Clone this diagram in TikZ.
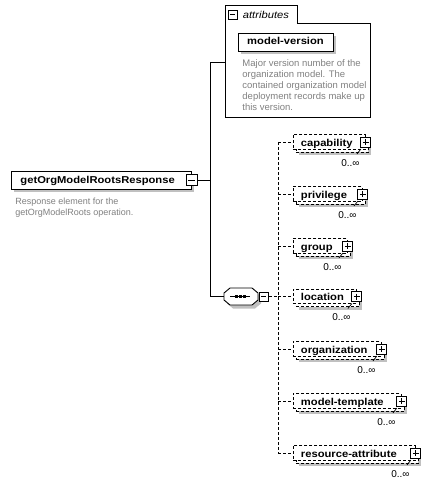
\documentclass[tikz,border=0pt]{standalone}
\usepackage{fontspec}
\setmainfont{Liberation Sans}
\newfontfamily\elemfamily[FakeStretch=1.12]{Liberation Sans}
\usetikzlibrary{positioning, calc, shadows}
\definecolor{shadowcolor}{RGB}{192,192,192}
\definecolor{desccolor}{RGB}{128,128,128}
\newcommand{\seqoutline}{(-11,-8.5) -- (11,-8.5) -- (17,-3.5) -- (17,3.5) -- (11,8.5) -- (-11,8.5) -- (-17,3.5) -- (-17,-3.5) -- cycle}

\begin{document}
\begin{tikzpicture}[x=1pt, y=-1pt, line width=0.9pt,
    elemfont/.style={font=\elemfamily\fontsize{10}{12}\selectfont\bfseries},
    desc/.style={font=\fontsize{9}{11}\selectfont, text=desccolor, align=left, inner sep=1pt},
    mult/.style={font=\fontsize{10}{12}\selectfont, inner sep=0.5pt},
    btn/.style={draw, fill=white, minimum size=10pt, inner sep=0pt, solid},
    minusbtn/.style={btn, path picture={
        \draw ([xshift=2pt]path picture bounding box.west) -- ([xshift=-2pt]path picture bounding box.east);}},
    plusbtn/.style={btn, path picture={
        \draw ([xshift=2pt]path picture bounding box.west) -- ([xshift=-2pt]path picture bounding box.east);
        \draw ([yshift=-2pt]path picture bounding box.north) -- ([yshift=2pt]path picture bounding box.south);}},
    rootbox/.style={draw, fill=white, elemfont, minimum height=18pt, text height=9.5pt, text depth=2.5pt,
        inner xsep=9pt, inner ysep=0pt, align=left,
        general shadow={fill=shadowcolor, shadow xshift=3pt, shadow yshift=-3pt}},
    attrelem/.style={draw, fill=white, elemfont, minimum width=95pt, minimum height=18pt,
        text height=8.5pt, text depth=2.5pt, inner sep=0pt,
        general shadow={fill=shadowcolor, shadow xshift=3pt, shadow yshift=-3pt}},
    childbox/.style={draw, dash pattern=on 3pt off 2pt, fill=white, elemfont, minimum height=14.5pt,
        text height=11pt, text depth=2.5pt, inner xsep=8pt, inner ysep=0pt, align=left, anchor=west,
        general shadow={fill=shadowcolor, shadow xshift=6pt, shadow yshift=-6pt},
        general shadow={fill=white, draw, dash pattern=on 3pt off 2pt, shadow xshift=3pt, shadow yshift=-3pt}},
    seqbox/.style={minimum width=34pt, minimum height=17pt, inner sep=0pt,
        path picture={
          \draw ([xshift=6pt]path picture bounding box.west) -- ([xshift=-8pt]path picture bounding box.east);
          \foreach \dx in {-5,-1,3}
            \fill ([xshift=\dx pt]path picture bounding box.center) +(-1.5,-1.3) rectangle +(1.5,1.3);}},
    conn/.style={dash pattern=on 3pt off 2pt},
    tick/.style={line width=0.7pt}]
    \useasboundingbox (0,0) rectangle (433,489);

    % Root element
    \node[rootbox, text width=162pt, anchor=west] (root) at (11,180) {getOrgModelRootsResponse};
    \node[minusbtn, minimum size=11pt] (rootbtn) at (root.east) {};
    \node[desc, anchor=north west] (rootdesc) at (14,196.5) {Response element for the\\getOrgModelRoots operation.};

    % Attributes
    \node[minimum width=145pt, minimum height=94pt, inner sep=0pt, anchor=north west] (attr) at (225,23) {};
    \node[minimum width=72pt, minimum height=17pt, inner sep=0pt, anchor=south west] (attrtab) at (attr.north west) {};
    \draw (attr.south west) -- (attrtab.north west) -- (attrtab.north east) -- (attrtab.south east)
        -- (attr.north east) -- (attr.south east) -- cycle;
    \node[minusbtn, minimum size=9pt] (attrbtn) at ($(attrtab.west)+(7.5,0.5)$) {};
    \node[font=\elemfamily\fontsize{10}{12}\selectfont\itshape, inner sep=0pt, right=5pt of attrbtn] (attrlabel) {attributes};
    \node[attrelem] (modelversion) at (285.5,42) {model-version};
    \node[desc, font=\fontsize{9.5}{11}\selectfont, anchor=north west] (modelversiondesc) at (241,58) {Major version number of the\\organization model. The\\contained organization model\\deployment records make up\\this version.};

    % Sequence
    \fill[shadowcolor, shift={(244,300)}] \seqoutline;
    \draw[fill=white, shift={(241,296.5)}] \seqoutline;
    \node[seqbox] (seq) at (241,296.5) {};
    \node[minusbtn, minimum size=9pt, anchor=west] (seqbtn) at ([xshift=0.5pt]seq.east) {};

    % Root connectors
    \coordinate[right=12.5pt of rootbtn.east] (rootfork);
    \draw (rootbtn.east) -- (rootfork);
    \draw ([yshift=8pt]attr.west) -| (rootfork) |- (seq.west);

    % Child elements
    \node[childbox, text width=56.5pt] (capability) at (292.5,142) {capability};
    \node[plusbtn] (capabilitybtn) at (capability.east) {};
    \node[mult] (capabilitymult) at ($(capabilitybtn)+(-15.5,21)$) {0..∞};
    \draw[tick] (capabilitybtn) ++(-5,7) -- ++(-4,5);

    \node[childbox, text width=53.5pt] (privilege) at (292.5,194) {privilege};
    \node[plusbtn] (privilegebtn) at (privilege.east) {};
    \node[mult] (privilegemult) at ($(privilegebtn)+(-15.5,21)$) {0..∞};
    \draw[tick] (privilegebtn) ++(-5,7) -- ++(-4,5);

    \node[childbox, text width=38.5pt] (group) at (292.5,246) {group};
    \node[plusbtn] (groupbtn) at (group.east) {};
    \node[mult] (groupmult) at ($(groupbtn)+(-15.5,21)$) {0..∞};
    \draw[tick] (groupbtn) ++(-5,7) -- ++(-4,5);

    \node[childbox, text width=47.5pt] (location) at (292.5,296.5) {location};
    \node[plusbtn] (locationbtn) at (location.east) {};
    \node[mult] (locationmult) at ($(locationbtn)+(-15.5,21)$) {0..∞};
    \draw[tick] (locationbtn) ++(-5,7) -- ++(-4,5);

    \node[childbox, text width=72.5pt] (organization) at (292.5,349) {organization};
    \node[plusbtn] (organizationbtn) at (organization.east) {};
    \node[mult] (organizationmult) at ($(organizationbtn)+(-15.5,21)$) {0..∞};
    \draw[tick] (organizationbtn) ++(-5,7) -- ++(-4,5);

    \node[childbox, text width=92.5pt] (modeltemplate) at (292.5,401) {model-template};
    \node[plusbtn] (modeltemplatebtn) at (modeltemplate.east) {};
    \node[mult] (modeltemplatemult) at ($(modeltemplatebtn)+(-15.5,21)$) {0..∞};
    \draw[tick] (modeltemplatebtn) ++(-5,7) -- ++(-4,5);

    \node[childbox, text width=106.5pt] (resattr) at (292.5,453) {resource-attribute};
    \node[plusbtn] (resattrbtn) at (resattr.east) {};
    \node[mult] (resattrmult) at ($(resattrbtn)+(-15.5,21)$) {0..∞};
    \draw[tick] (resattrbtn) ++(-5,7) -- ++(-4,5);

    % Sequence connectors
    \coordinate[right=9.5pt of seqbtn.east] (bus);
    \draw[conn] (seqbtn.east) -- (bus);
    \draw[conn] (bus |- capability.west) -- (bus |- resattr.west);
    \draw[conn] (bus |- capability.west) -- (capability.west);
    \draw[conn] (bus |- privilege.west) -- (privilege.west);
    \draw[conn] (bus |- group.west) -- (group.west);
    \draw[conn] (bus |- location.west) -- (location.west);
    \draw[conn] (bus |- organization.west) -- (organization.west);
    \draw[conn] (bus |- modeltemplate.west) -- (modeltemplate.west);
    \draw[conn] (bus |- resattr.west) -- (resattr.west);
\end{tikzpicture}
\end{document}
